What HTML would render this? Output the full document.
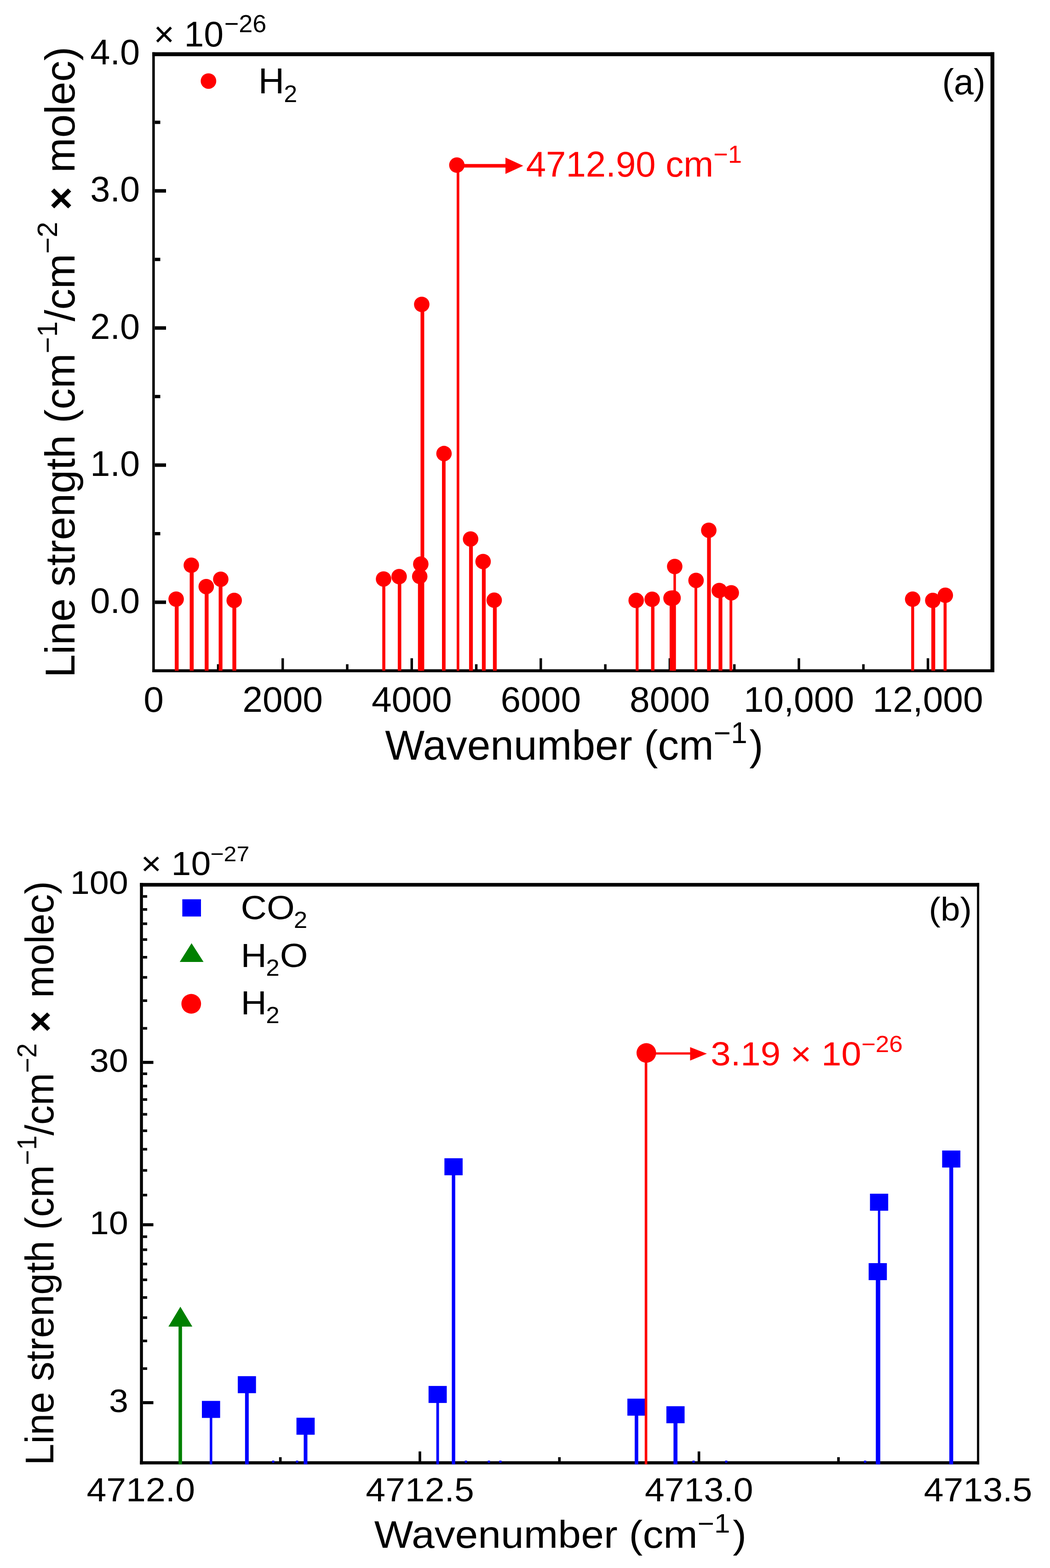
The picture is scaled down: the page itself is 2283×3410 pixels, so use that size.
<!DOCTYPE html>
<html><head><meta charset="utf-8"><title>Line strength spectra</title>
<style>
html,body{margin:0;padding:0;background:#fff;}
svg{display:block;}
text{font-family:'Liberation Sans', Arial, sans-serif;}
</style></head>
<body>
<svg width="2283" height="3410" viewBox="0 0 2283 3410">
<rect x="0" y="0" width="2283" height="3410" fill="#fff"/>
<rect x="331.10" y="113.60" width="1830.90" height="8.60" fill="#000"/>
<rect x="331.10" y="1455.50" width="1830.90" height="6.50" fill="#000"/>
<rect x="331.10" y="113.60" width="5.50" height="1348.40" fill="#000"/>
<rect x="2153.60" y="113.60" width="8.40" height="1348.40" fill="#000"/>
<rect x="336.60" y="1305.90" width="24.40" height="7.60" fill="#000"/>
<rect x="336.60" y="1007.70" width="24.40" height="7.60" fill="#000"/>
<rect x="336.60" y="709.50" width="24.40" height="7.60" fill="#000"/>
<rect x="336.60" y="411.30" width="24.40" height="7.60" fill="#000"/>
<rect x="336.60" y="1157.00" width="11.90" height="7.20" fill="#000"/>
<rect x="336.60" y="858.80" width="11.90" height="7.20" fill="#000"/>
<rect x="336.60" y="560.60" width="11.90" height="7.20" fill="#000"/>
<rect x="336.60" y="262.40" width="11.90" height="7.20" fill="#000"/>
<rect x="611.98" y="1431.50" width="5.40" height="24.50" fill="#000"/>
<rect x="892.56" y="1431.50" width="5.40" height="24.50" fill="#000"/>
<rect x="1173.14" y="1431.50" width="5.40" height="24.50" fill="#000"/>
<rect x="1453.72" y="1431.50" width="5.40" height="24.50" fill="#000"/>
<rect x="1734.30" y="1431.50" width="5.40" height="24.50" fill="#000"/>
<rect x="2014.88" y="1431.50" width="5.40" height="24.50" fill="#000"/>
<rect x="471.69" y="1444.50" width="5.40" height="11.50" fill="#000"/>
<rect x="752.27" y="1444.50" width="5.40" height="11.50" fill="#000"/>
<rect x="1032.85" y="1444.50" width="5.40" height="11.50" fill="#000"/>
<rect x="1313.43" y="1444.50" width="5.40" height="11.50" fill="#000"/>
<rect x="1594.01" y="1444.50" width="5.40" height="11.50" fill="#000"/>
<rect x="1874.59" y="1444.50" width="5.40" height="11.50" fill="#000"/>
<rect x="380.00" y="1303.00" width="8.40" height="155.50" fill="#ff0000"/>
<rect x="412.50" y="1229.30" width="8.60" height="229.20" fill="#ff0000"/>
<rect x="445.10" y="1275.70" width="8.40" height="182.80" fill="#ff0000"/>
<rect x="475.50" y="1259.70" width="8.20" height="198.80" fill="#ff0000"/>
<rect x="505.30" y="1305.70" width="8.40" height="152.80" fill="#ff0000"/>
<rect x="831.20" y="1259.20" width="6.60" height="199.30" fill="#ff0000"/>
<rect x="864.90" y="1254.00" width="7.60" height="204.50" fill="#ff0000"/>
<rect x="908.75" y="1253.60" width="7.50" height="204.90" fill="#ff0000"/>
<rect x="912.00" y="1226.80" width="7.00" height="231.70" fill="#ff0000"/>
<rect x="914.40" y="662.00" width="8.00" height="796.50" fill="#ff0000"/>
<rect x="961.00" y="986.40" width="7.80" height="472.10" fill="#ff0000"/>
<rect x="992.95" y="359.10" width="5.70" height="1099.40" fill="#ff0000"/>
<rect x="1019.90" y="1172.20" width="8.20" height="286.30" fill="#ff0000"/>
<rect x="1047.80" y="1221.20" width="8.20" height="237.30" fill="#ff0000"/>
<rect x="1071.80" y="1305.30" width="8.20" height="153.20" fill="#ff0000"/>
<rect x="1382.20" y="1305.80" width="6.20" height="152.70" fill="#ff0000"/>
<rect x="1415.60" y="1303.30" width="7.40" height="155.20" fill="#ff0000"/>
<rect x="1456.00" y="1301.00" width="7.60" height="157.50" fill="#ff0000"/>
<rect x="1460.50" y="1300.50" width="6.00" height="158.00" fill="#ff0000"/>
<rect x="1464.30" y="1232.00" width="5.40" height="226.50" fill="#ff0000"/>
<rect x="1510.05" y="1262.20" width="5.90" height="196.30" fill="#ff0000"/>
<rect x="1537.40" y="1153.20" width="8.20" height="305.30" fill="#ff0000"/>
<rect x="1562.40" y="1284.20" width="8.20" height="174.30" fill="#ff0000"/>
<rect x="1586.20" y="1289.20" width="6.00" height="169.30" fill="#ff0000"/>
<rect x="1981.20" y="1303.10" width="6.40" height="155.40" fill="#ff0000"/>
<rect x="2025.00" y="1305.80" width="8.40" height="152.70" fill="#ff0000"/>
<rect x="2051.60" y="1294.60" width="6.60" height="163.90" fill="#ff0000"/>
<rect x="993.60" y="356.70" width="106.40" height="7.70" fill="#ff0000"/>
<polygon points="1099,342.7 1137.6,360.5 1099,378.3" fill="#ff0000"/>
<circle cx="383.0" cy="1303.0" r="16.8" fill="#ff0000"/>
<circle cx="416.0" cy="1229.3" r="16.8" fill="#ff0000"/>
<circle cx="448.4" cy="1275.7" r="16.8" fill="#ff0000"/>
<circle cx="480.0" cy="1259.7" r="16.8" fill="#ff0000"/>
<circle cx="509.2" cy="1305.7" r="16.8" fill="#ff0000"/>
<circle cx="834.0" cy="1259.2" r="16.8" fill="#ff0000"/>
<circle cx="867.8" cy="1254.0" r="16.8" fill="#ff0000"/>
<circle cx="912.6" cy="1253.6" r="16.8" fill="#ff0000"/>
<circle cx="914.9" cy="1226.8" r="16.8" fill="#ff0000"/>
<circle cx="917.0" cy="662.0" r="16.8" fill="#ff0000"/>
<circle cx="965.4" cy="986.4" r="16.8" fill="#ff0000"/>
<circle cx="993.3" cy="359.1" r="16.8" fill="#ff0000"/>
<circle cx="1023.2" cy="1172.2" r="16.8" fill="#ff0000"/>
<circle cx="1050.4" cy="1221.2" r="16.8" fill="#ff0000"/>
<circle cx="1074.5" cy="1305.3" r="16.8" fill="#ff0000"/>
<circle cx="1383.2" cy="1305.8" r="16.8" fill="#ff0000"/>
<circle cx="1418.0" cy="1303.3" r="16.8" fill="#ff0000"/>
<circle cx="1459.0" cy="1301.0" r="16.8" fill="#ff0000"/>
<circle cx="1463.5" cy="1300.5" r="16.8" fill="#ff0000"/>
<circle cx="1467.0" cy="1232.0" r="16.8" fill="#ff0000"/>
<circle cx="1513.4" cy="1262.2" r="16.8" fill="#ff0000"/>
<circle cx="1541.1" cy="1153.2" r="16.8" fill="#ff0000"/>
<circle cx="1564.0" cy="1284.2" r="16.8" fill="#ff0000"/>
<circle cx="1590.0" cy="1289.2" r="16.8" fill="#ff0000"/>
<circle cx="1984.4" cy="1303.1" r="16.8" fill="#ff0000"/>
<circle cx="2028.1" cy="1305.8" r="16.8" fill="#ff0000"/>
<circle cx="2055.4" cy="1294.6" r="16.8" fill="#ff0000"/>
<text x="304.11" y="140.20" font-size="77.5" text-anchor="end" fill="#000">4.0</text>
<text x="304.11" y="438.40" font-size="77.5" text-anchor="end" fill="#000">3.0</text>
<text x="304.11" y="736.60" font-size="77.5" text-anchor="end" fill="#000">2.0</text>
<text x="304.11" y="1034.80" font-size="77.5" text-anchor="end" fill="#000">1.0</text>
<text x="304.11" y="1333.00" font-size="77.5" text-anchor="end" fill="#000">0.0</text>
<text x="334.10" y="1547.80" font-size="78.5" text-anchor="middle" fill="#000">0</text>
<text x="614.68" y="1547.80" font-size="78.5" text-anchor="middle" fill="#000">2000</text>
<text x="895.26" y="1547.80" font-size="78.5" text-anchor="middle" fill="#000">4000</text>
<text x="1175.84" y="1547.80" font-size="78.5" text-anchor="middle" fill="#000">6000</text>
<text x="1456.42" y="1547.80" font-size="78.5" text-anchor="middle" fill="#000">8000</text>
<text x="1737.00" y="1547.80" font-size="78.5" text-anchor="middle" fill="#000">10,000</text>
<text x="2017.58" y="1547.80" font-size="78.5" text-anchor="middle" fill="#000">12,000</text>
<text x="837.14" y="1651.8" font-size="91">Wavenumber (cm<tspan font-size="64" dy="-35.4">−1</tspan><tspan dy="35.4" dx="4.5">)</tspan></text>
<text transform="translate(162.3,1473.80) rotate(-90)" font-size="91.3">Line strength (cm<tspan font-size="61" dy="-38.5">−1</tspan><tspan dy="38.5">/cm</tspan><tspan font-size="61" dy="-38.5">−2</tspan><tspan dy="38.5"> </tspan><tspan font-weight="bold" font-size="87.2">×</tspan><tspan dx="5"> molec)</tspan></text>
<text x="334.20" y="101.00" font-size="77" text-anchor="start" fill="#000">× 10</text>
<text x="487.80" y="69.80" font-size="54" text-anchor="start" fill="#000">−26</text>
<text x="2095.50" y="204.50" font-size="77" text-anchor="middle" fill="#000">(a)</text>
<circle cx="453.3" cy="176.3" r="16.9" fill="#ff0000"/>
<text x="561.76" y="203.00" font-size="78" text-anchor="start" fill="#000">H</text>
<text x="617.20" y="222.00" font-size="52" text-anchor="start" fill="#000">2</text>
<text x="1143.74" y="383.5" font-size="78" fill="#ff0000">4712.90 cm<tspan font-size="54" dy="-29.9">−1</tspan></text>
<rect x="304.30" y="1920.20" width="1824.80" height="7.90" fill="#000"/>
<rect x="304.30" y="3177.80" width="1824.80" height="6.90" fill="#000"/>
<rect x="304.30" y="1920.20" width="6.50" height="1264.50" fill="#000"/>
<rect x="2124.20" y="1920.20" width="4.90" height="1264.50" fill="#000"/>
<rect x="310.80" y="2307.13" width="22.70" height="6.60" fill="#000"/>
<rect x="310.80" y="2660.20" width="22.70" height="6.60" fill="#000"/>
<rect x="310.80" y="3047.13" width="22.70" height="6.60" fill="#000"/>
<rect x="310.80" y="2233.55" width="9.20" height="5.60" fill="#000"/>
<rect x="310.80" y="2173.38" width="9.20" height="5.60" fill="#000"/>
<rect x="310.80" y="2122.72" width="9.20" height="5.60" fill="#000"/>
<rect x="310.80" y="2078.97" width="9.20" height="5.60" fill="#000"/>
<rect x="310.80" y="2040.47" width="9.20" height="5.60" fill="#000"/>
<rect x="310.80" y="2006.09" width="9.20" height="5.60" fill="#000"/>
<rect x="310.80" y="1975.04" width="9.20" height="5.60" fill="#000"/>
<rect x="310.80" y="1946.72" width="9.20" height="5.60" fill="#000"/>
<rect x="310.80" y="2596.21" width="9.20" height="5.60" fill="#000"/>
<rect x="310.80" y="2542.52" width="9.20" height="5.60" fill="#000"/>
<rect x="310.80" y="2496.53" width="9.20" height="5.60" fill="#000"/>
<rect x="310.80" y="2456.31" width="9.20" height="5.60" fill="#000"/>
<rect x="310.80" y="2420.56" width="9.20" height="5.60" fill="#000"/>
<rect x="310.80" y="2388.40" width="9.20" height="5.60" fill="#000"/>
<rect x="310.80" y="2359.16" width="9.20" height="5.60" fill="#000"/>
<rect x="310.80" y="2332.36" width="9.20" height="5.60" fill="#000"/>
<rect x="310.80" y="2973.55" width="9.20" height="5.60" fill="#000"/>
<rect x="310.80" y="2913.38" width="9.20" height="5.60" fill="#000"/>
<rect x="310.80" y="2862.72" width="9.20" height="5.60" fill="#000"/>
<rect x="310.80" y="2818.97" width="9.20" height="5.60" fill="#000"/>
<rect x="310.80" y="2780.47" width="9.20" height="5.60" fill="#000"/>
<rect x="310.80" y="2746.09" width="9.20" height="5.60" fill="#000"/>
<rect x="310.80" y="2715.04" width="9.20" height="5.60" fill="#000"/>
<rect x="310.80" y="2686.72" width="9.20" height="5.60" fill="#000"/>
<rect x="910.15" y="3156.50" width="5.60" height="21.50" fill="#000"/>
<rect x="1516.90" y="3156.50" width="5.60" height="21.50" fill="#000"/>
<rect x="606.78" y="3169.00" width="5.60" height="9.00" fill="#000"/>
<rect x="1213.53" y="3169.00" width="5.60" height="9.00" fill="#000"/>
<rect x="1820.28" y="3169.00" width="5.60" height="9.00" fill="#000"/>
<rect x="388.20" y="2884.00" width="7.60" height="300.50" fill="#008000"/>
<rect x="456.05" y="3065.10" width="5.50" height="119.40" fill="#0000ff"/>
<rect x="532.80" y="3011.30" width="8.00" height="173.20" fill="#0000ff"/>
<rect x="660.40" y="3101.70" width="8.00" height="82.80" fill="#0000ff"/>
<rect x="948.70" y="3032.60" width="5.80" height="151.90" fill="#0000ff"/>
<rect x="982.40" y="2537.40" width="7.40" height="647.10" fill="#0000ff"/>
<rect x="1380.05" y="3060.20" width="7.70" height="124.30" fill="#0000ff"/>
<rect x="1464.40" y="3076.70" width="8.60" height="107.80" fill="#0000ff"/>
<rect x="1908.80" y="2614.50" width="5.20" height="570.00" fill="#0000ff"/>
<rect x="1904.30" y="2765.50" width="8.40" height="419.00" fill="#0000ff"/>
<rect x="2064.10" y="2520.60" width="8.40" height="663.90" fill="#0000ff"/>
<rect x="591.50" y="3176.50" width="5.00" height="4.50" fill="#0000ff"/>
<rect x="643.50" y="3176.50" width="5.00" height="4.50" fill="#0000ff"/>
<rect x="1010.50" y="3176.50" width="5.00" height="4.50" fill="#0000ff"/>
<rect x="1060.50" y="3176.50" width="5.00" height="4.50" fill="#0000ff"/>
<rect x="1085.50" y="3176.50" width="5.00" height="4.50" fill="#0000ff"/>
<rect x="1505.50" y="3176.50" width="5.00" height="4.50" fill="#0000ff"/>
<rect x="1576.50" y="3176.50" width="5.00" height="4.50" fill="#0000ff"/>
<rect x="1878.50" y="3176.50" width="5.00" height="4.50" fill="#0000ff"/>
<rect x="439.00" y="3046.60" width="39.60" height="37.00" fill="#0000ff"/>
<rect x="517.00" y="2992.80" width="39.60" height="37.00" fill="#0000ff"/>
<rect x="644.60" y="3083.20" width="39.60" height="37.00" fill="#0000ff"/>
<rect x="931.80" y="3014.10" width="39.60" height="37.00" fill="#0000ff"/>
<rect x="966.30" y="2518.90" width="39.60" height="37.00" fill="#0000ff"/>
<rect x="1364.10" y="3041.70" width="39.60" height="37.00" fill="#0000ff"/>
<rect x="1448.90" y="3058.20" width="39.60" height="37.00" fill="#0000ff"/>
<rect x="1891.60" y="2596.00" width="39.60" height="37.00" fill="#0000ff"/>
<rect x="1888.70" y="2747.00" width="39.60" height="37.00" fill="#0000ff"/>
<rect x="2048.50" y="2502.10" width="39.60" height="37.00" fill="#0000ff"/>
<rect x="1401.80" y="2290.00" width="5.60" height="894.50" fill="#ff0000"/>
<rect x="1405.00" y="2288.60" width="97.00" height="4.80" fill="#ff0000"/>
<polygon points="1500.5,2277.3 1537,2291.5 1500.5,2306.5" fill="#ff0000"/>
<circle cx="1405.3" cy="2289.9" r="21.3" fill="#ff0000"/>
<polygon points="392.2,2841.7 366.2,2885 418.2,2885" fill="#008000"/>
<text transform="translate(278.72,1943.80) scale(1,0.937)" font-size="75.5" text-anchor="end" fill="#000">100</text>
<text transform="translate(278.72,2330.73) scale(1,0.937)" font-size="75.5" text-anchor="end" fill="#000">30</text>
<text transform="translate(278.72,2683.80) scale(1,0.937)" font-size="75.5" text-anchor="end" fill="#000">10</text>
<text transform="translate(279.10,3070.73) scale(1,0.937)" font-size="75.5" text-anchor="end" fill="#000">3</text>
<text transform="translate(306.20,3264.60) scale(1,0.937)" font-size="77" text-anchor="middle" fill="#000">4712.0</text>
<text transform="translate(912.95,3264.60) scale(1,0.937)" font-size="77" text-anchor="middle" fill="#000">4712.5</text>
<text transform="translate(1519.70,3264.60) scale(1,0.937)" font-size="77" text-anchor="middle" fill="#000">4713.0</text>
<text transform="translate(2126.45,3264.60) scale(1,0.937)" font-size="77" text-anchor="middle" fill="#000">4713.5</text>
<text transform="translate(813.85,3365.8) scale(1,0.937)" font-size="89.5">Wavenumber (cm<tspan font-size="62" dy="-35.4">−1</tspan><tspan dy="35.4" dx="6">)</tspan></text>
<text transform="translate(115.7,3186.86) rotate(-90) scale(0.965,1)" font-size="87.6">Line strength (cm<tspan font-size="58.5" dy="-37">−1</tspan><tspan dy="37">/cm</tspan><tspan font-size="58.5" dy="-37">−2</tspan><tspan dy="37"> </tspan><tspan font-weight="bold" font-size="83.7">×</tspan><tspan dx="5"> molec)</tspan></text>
<text transform="translate(306.20,1903.20) scale(1,0.937)" font-size="77" text-anchor="start" fill="#000">× 10</text>
<text transform="translate(457.40,1873.10) scale(1,0.937)" font-size="50" text-anchor="start" fill="#000">−27</text>
<text transform="translate(2066.30,2001.50) scale(1,0.937)" font-size="76.5" text-anchor="middle" fill="#000">(b)</text>
<rect x="396.40" y="1955.70" width="40.60" height="37.50" fill="#0000ff"/>
<polygon points="416.5,2051.3 390.8,2091.9 442.6,2091.9" fill="#008000"/>
<circle cx="415.8" cy="2183" r="21.4" fill="#ff0000"/>
<text transform="translate(523.60,1999.20) scale(1,0.937)" font-size="78" text-anchor="start" fill="#000">CO</text>
<text transform="translate(638.65,2018.20) scale(1,0.937)" font-size="53" text-anchor="start" fill="#000">2</text>
<text transform="translate(523.46,2103.00) scale(1,0.937)" font-size="78" text-anchor="start" fill="#000">H</text>
<text transform="translate(578.35,2122.00) scale(1,0.937)" font-size="53" text-anchor="start" fill="#000">2</text>
<text transform="translate(608.79,2103.00) scale(1,0.937)" font-size="78" text-anchor="start" fill="#000">O</text>
<text transform="translate(523.46,2205.70) scale(1,0.937)" font-size="78" text-anchor="start" fill="#000">H</text>
<text transform="translate(578.35,2224.70) scale(1,0.937)" font-size="53" text-anchor="start" fill="#000">2</text>
<text transform="translate(1545.28,2316.5) scale(1,0.937)" font-size="78" fill="#ff0000">3.19 × 10<tspan font-size="53" dy="-30.6">−26</tspan></text>
</svg>
</body></html>
